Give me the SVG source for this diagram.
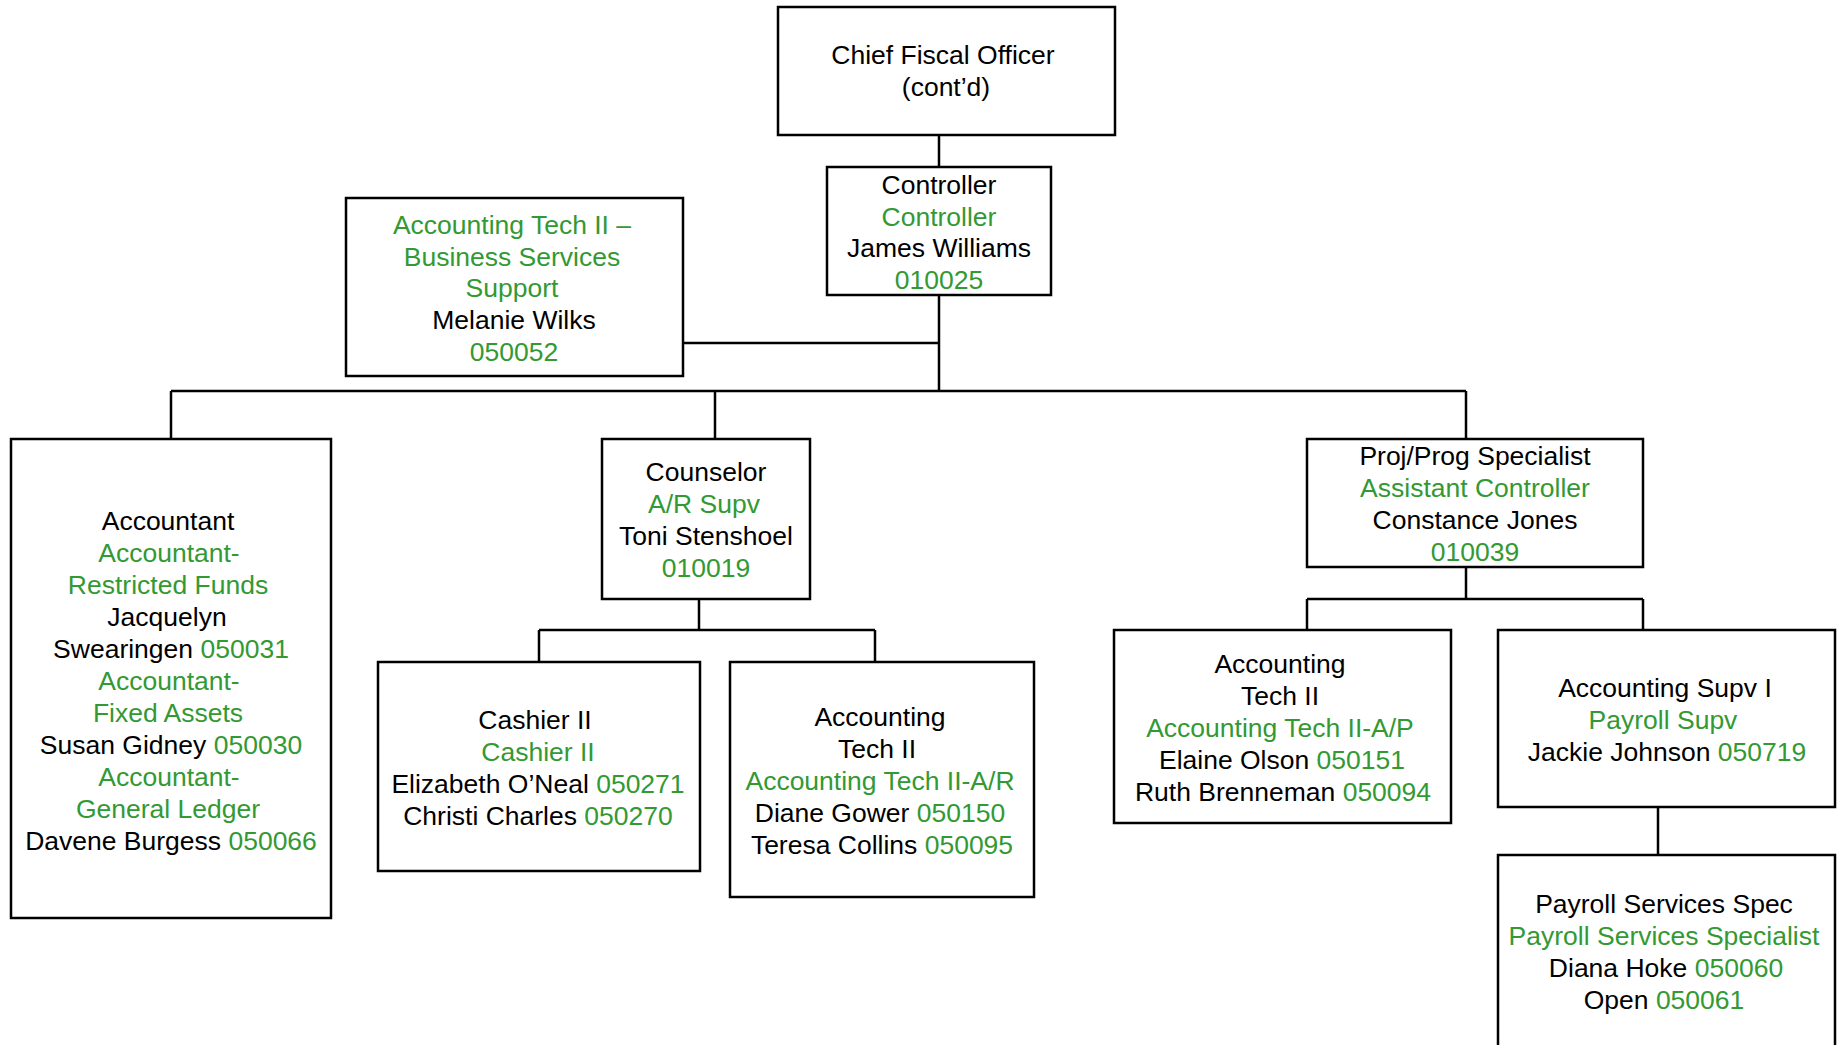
<svg xmlns="http://www.w3.org/2000/svg" width="1841" height="1045" viewBox="0 0 1841 1045">
<style>
rect.box{fill:#ffffff;stroke:#000000;stroke-width:2.5}
.conn{fill:none;stroke:#000000;stroke-width:2.5}
text{font-family:"Liberation Sans",Arial,sans-serif;font-size:26.5px;fill:#000000;text-anchor:middle}
.g{fill:#339933}
</style>
<rect x="0" y="0" width="1841" height="1045" fill="#ffffff"/>
<g id="connectors">
<path class="conn" d="M939 135 V167"/>
<path class="conn" d="M939 295 V391"/>
<path class="conn" d="M683 343 H939"/>
<path class="conn" d="M171 391 H1466"/>
<path class="conn" d="M171 391 V439"/>
<path class="conn" d="M715 391 V439"/>
<path class="conn" d="M1466 391 V439"/>
<path class="conn" d="M699 599 V630"/>
<path class="conn" d="M539 630 H875"/>
<path class="conn" d="M539 630 V662"/>
<path class="conn" d="M875 630 V662"/>
<path class="conn" d="M1466 567 V599"/>
<path class="conn" d="M1307 599 H1643"/>
<path class="conn" d="M1307 599 V630"/>
<path class="conn" d="M1643 599 V630"/>
<path class="conn" d="M1658 807 V855"/>
</g>
<g id="chief">
<rect class="box" x="778" y="7" width="337" height="128"/>
<text x="943" y="64">Chief Fiscal Officer</text>
<text x="946" y="96">(cont’d)</text>
</g>
<g id="controller">
<rect class="box" x="827" y="167" width="224" height="128"/>
<text x="939" y="194">Controller</text>
<text x="939" y="226" class="g">Controller</text>
<text x="939" y="257">James Williams</text>
<text x="939" y="289" class="g">010025</text>
</g>
<g id="bss">
<rect class="box" x="346" y="198" width="337" height="178"/>
<text x="512" y="234" class="g">Accounting Tech II –</text>
<text x="512" y="266" class="g">Business Services</text>
<text x="512" y="297" class="g">Support</text>
<text x="514" y="329">Melanie Wilks</text>
<text x="514" y="361" class="g">050052</text>
</g>
<g id="accountant">
<rect class="box" x="11" y="439" width="320" height="479"/>
<text x="168" y="530">Accountant</text>
<text x="169" y="562" class="g">Accountant-</text>
<text x="168" y="594" class="g">Restricted Funds</text>
<text x="167" y="626">Jacquelyn</text>
<text x="171" y="658">Swearingen <tspan class="g">050031</tspan></text>
<text x="169" y="690" class="g">Accountant-</text>
<text x="168" y="722" class="g">Fixed Assets</text>
<text x="171" y="754">Susan Gidney <tspan class="g">050030</tspan></text>
<text x="169" y="786" class="g">Accountant-</text>
<text x="168" y="818" class="g">General Ledger</text>
<text x="171" y="850">Davene Burgess <tspan class="g">050066</tspan></text>
</g>
<g id="counselor">
<rect class="box" x="602" y="439" width="208" height="160"/>
<text x="706" y="481">Counselor</text>
<text x="704" y="513" class="g">A/R Supv</text>
<text x="706" y="545">Toni Stenshoel</text>
<text x="706" y="577" class="g">010019</text>
</g>
<g id="projprog">
<rect class="box" x="1307" y="439" width="336" height="128"/>
<text x="1475" y="465">Proj/Prog Specialist</text>
<text x="1475" y="497" class="g">Assistant Controller</text>
<text x="1475" y="529">Constance Jones</text>
<text x="1475" y="561" class="g">010039</text>
</g>
<g id="cashier">
<rect class="box" x="378" y="662" width="322" height="209"/>
<text x="535" y="729">Cashier II</text>
<text x="538" y="761" class="g">Cashier II</text>
<text x="538" y="793">Elizabeth O’Neal <tspan class="g">050271</tspan></text>
<text x="538" y="825">Christi Charles <tspan class="g">050270</tspan></text>
</g>
<g id="acct-tech-ar">
<rect class="box" x="730" y="662" width="304" height="235"/>
<text x="880" y="726">Accounting</text>
<text x="877" y="758">Tech II</text>
<text x="880" y="790" class="g">Accounting Tech II-A/R</text>
<text x="880" y="822">Diane Gower <tspan class="g">050150</tspan></text>
<text x="882" y="854">Teresa Collins <tspan class="g">050095</tspan></text>
</g>
<g id="acct-tech-ap">
<rect class="box" x="1114" y="630" width="337" height="193"/>
<text x="1280" y="673">Accounting</text>
<text x="1280" y="705">Tech II</text>
<text x="1280" y="737" class="g">Accounting Tech II-A/P</text>
<text x="1282" y="769">Elaine Olson <tspan class="g">050151</tspan></text>
<text x="1283" y="801">Ruth Brenneman <tspan class="g">050094</tspan></text>
</g>
<g id="acct-supv">
<rect class="box" x="1498" y="630" width="337" height="177"/>
<text x="1665" y="697">Accounting Supv I</text>
<text x="1663" y="729" class="g">Payroll Supv</text>
<text x="1667" y="761">Jackie Johnson <tspan class="g">050719</tspan></text>
</g>
<g id="payroll-spec">
<rect class="box" x="1498" y="855" width="337" height="210"/>
<text x="1664" y="913">Payroll Services Spec</text>
<text x="1664" y="945" class="g">Payroll Services Specialist</text>
<text x="1666" y="977">Diana Hoke <tspan class="g">050060</tspan></text>
<text x="1664" y="1009">Open <tspan class="g">050061</tspan></text>
</g>
</svg>
